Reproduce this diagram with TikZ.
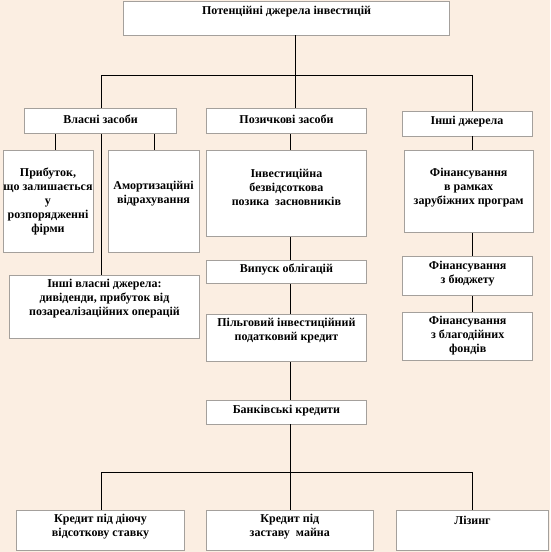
\documentclass[tikz,border=0pt]{standalone}
\usepackage{fontspec}
\setmainfont{Liberation Serif}
\definecolor{bg}{HTML}{FBEEE2}
\definecolor{boxgray}{HTML}{A4A09C}
\newcommand\mybox[5]{\node[boxst, minimum width={(#4-#2)*1pt}, minimum height={(#5-#3)*1pt}] (#1) at ({(#2+#4)/2},{(#3+#5)/2}) {};}
\begin{document}
\begin{tikzpicture}[x=1pt,y=-1pt,
  boxst/.style={draw=boxgray, fill=white, line width=0.9pt, inner sep=0pt},
  txt/.style={font=\bfseries\fontsize{12}{14}\selectfont, align=center, inner sep=0pt},
  conn/.style={line width=1pt, black}]
\fill[bg] (0,0) rectangle (550,552);
\useasboundingbox (0,0) rectangle (550,552);
% boxes
\mybox{top}{123.5}{1.5}{449.5}{35}
\mybox{vl}{24.5}{108.8}{176.5}{133.7}
\mybox{pz}{206.5}{108.8}{366.5}{133.7}
\mybox{ih}{402}{111.5}{532}{136}
\mybox{pr}{3}{150.7}{93}{252}
\mybox{am}{108}{150.7}{199}{252}
\mybox{iv}{9.5}{275.7}{199.5}{338}
\mybox{ib}{206.7}{150.7}{366}{236.7}
\mybox{vo}{206.7}{260}{366}{283.3}
\mybox{pl}{206.7}{314}{366}{361.7}
\mybox{bk}{206.7}{400.7}{366}{424}
\mybox{fr}{404}{150.7}{533.3}{232.3}
\mybox{fb}{402.7}{256.7}{532.7}{295.7}
\mybox{fd}{402.7}{312.3}{532.7}{360}
\mybox{ka}{16.5}{510.5}{184.5}{550}
\mybox{kb}{206.7}{510.5}{373}{550}
\mybox{kc}{396.5}{510.5}{548.5}{550}
% texts
\node[txt] (ttop) at (286.6,12) {Потенційні джерела інвестицій};
\node[txt] (tvl) at (100.5,119) {Власні засоби};
\node[txt] (tpz) at (286.5,119) {Позичкові засоби};
\node[txt] (tih) at (467,122) {Інші джерела};
\node[txt] (tpr) at (48,201) {Прибуток,\\ що залишається\\ у\\ розпорядженні\\ фірми};
\node[txt] (tam) at (153.5,194) {Амортизаційні\\ відрахування};
\node[txt] (tiv) at (104.5,298.7) {Інші власні джерела:\\ дивіденди, прибуток від\\ позареалізаційних операцій};
\node[txt] (tib) at (286.4,187) {Інвестиційна\\ безвідсоткова\\ позика\ \ засновників};
\node[txt] (tvo) at (286.4,269) {Випуск облігацій};
\node[txt] (tpl) at (286.4,330.5) {Пільговий інвестиційний\\ податковий кредит};
\node[txt] (tbk) at (286.4,411) {Банківські кредити};
\node[txt] (tfr) at (468.7,187.6) {Фінансування\\ в рамках\\ зарубіжних програм};
\node[txt] (tfb) at (467.7,273.7) {Фінансування\\ з бюджету};
\node[txt] (tfd) at (467.7,336) {Фінансування\\ з благодійних\\ фондів};
\node[txt] (tka) at (100.5,527) {Кредит під діючу\\ відсоткову ставку};
\node[txt] (tkb) at (289.8,527) {Кредит під\\ заставу\ \ майна};
\node[txt] (tkc) at (472.5,520) {Лізинг};
% connector coordinates
\coordinate (xa) at (295.4,0);
\coordinate (xl1) at (55,0);
\coordinate (xl2) at (101,0);
\coordinate (xl3) at (154,0);
\coordinate (xm) at (290.7,0);
\coordinate (xr) at (472.6,0);
\coordinate (barAL) at (101,75.4);
\coordinate (barAR) at (472.6,75.4);
\coordinate (barBL) at (101,472);
\coordinate (barBR) at (472.6,472);
% connectors
\draw[conn] (top.south -| xa) -- (pz.north -| xa);
\draw[conn] (barAL) -- (barAR);
\draw[conn] (barAL) -- (vl.north -| barAL);
\draw[conn] (barAR) -- (ih.north -| barAR);
\draw[conn] (vl.south -| xl1) -- (pr.north -| xl1);
\draw[conn] (vl.south -| xl2) -- (iv.north -| xl2);
\draw[conn] (vl.south -| xl3) -- (am.north -| xl3);
\draw[conn] (pz.south -| xm) -- (ib.north -| xm);
\draw[conn] (ib.south -| xm) -- (vo.north -| xm);
\draw[conn] (vo.south -| xm) -- (pl.north -| xm);
\draw[conn] (pl.south -| xm) -- (bk.north -| xm);
\draw[conn] (bk.south -| xm) -- (kb.north -| xm);
\draw[conn] (barBL) -- (barBR);
\draw[conn] (barBL) -- (ka.north -| barBL);
\draw[conn] (barBR) -- (kc.north -| barBR);
\draw[conn] (ih.south -| xr) -- (fr.north -| xr);
\draw[conn] (fr.south -| xr) -- (fb.north -| xr);
\draw[conn] (fb.south -| xr) -- (fd.north -| xr);
\end{tikzpicture}
\end{document}
